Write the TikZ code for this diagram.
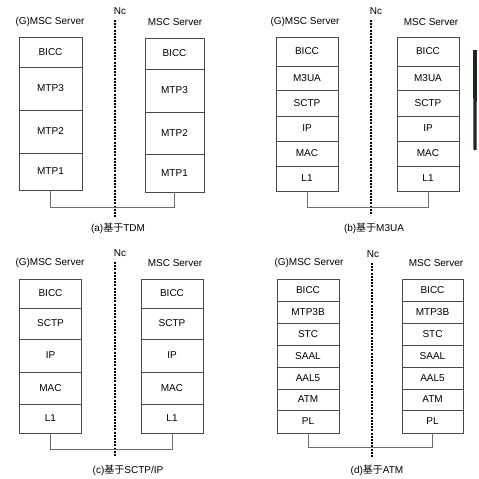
\documentclass[tikz,border=0pt]{standalone}
\usepackage{fontspec}
\setmainfont{Liberation Sans}
\newfontfamily\cjk{Noto Sans CJK SC}
\definecolor{boxline}{HTML}{4A4A4A}
\definecolor{connline}{HTML}{6E6E6E}
\definecolor{barcol}{HTML}{1C2A1C}
\newcommand\lblfont{\fontsize{10}{12}\selectfont}
\newcommand\mkstack[5]{%
  \node[inner sep=0pt, outer sep=0pt, minimum size=0pt] (#1-0) at (#2,#3) {};
  \foreach \h/\t [count=\i] in {#5} {%
    \pgfmathtruncatemacro\j{\i-1}%
    \node[layer, minimum width=#4pt, minimum height=\h pt] (#1-\i) at (#1-\j.south) {\t};
  }%
}
\tikzset{
  layer/.style={draw=boxline, line width=0.9pt, inner sep=0pt, outer sep=0pt, anchor=north, font=\lblfont},
  conn/.style={draw=connline, line width=0.9pt},
  ncline/.style={draw=black, line width=1.4pt, dash pattern=on 2pt off 1.2pt},
  lbl/.style={font=\lblfont, inner sep=0pt},
}
\begin{document}
\begin{tikzpicture}[x=1pt, y=-1pt]
\useasboundingbox[fill=white] (0,0) rectangle (479,479);

% ---------- (a) ----------
\node[lbl] (aTL) at (50,22) {(G)MSC Server};
\node[lbl] (aTR) at (175,22) {MSC Server};
\node[lbl] (aNc) at (120,11) {Nc};
\coordinate (aNs) at (115,20);
\coordinate (aNe) at (115,217);
\draw[ncline] (aNs) -- (aNe);
\mkstack{aL}{50.5}{37}{63}{30/BICC,43/MTP3,43/MTP2,37/MTP1}
\mkstack{aR}{174.5}{38}{59}{31/BICC,43/MTP3,42/MTP2,38/MTP1}
\draw[conn] (aL-4.south) -- ++(0,17) -| (aR-4.south);
\node[lbl] (aCap) at (118,228) {(a){\cjk 基于}TDM};

% ---------- (b) ----------
\node[lbl] (bTL) at (305,22) {(G)MSC Server};
\node[lbl] (bTR) at (431,22) {MSC Server};
\node[lbl] (bNc) at (376,11) {Nc};
\coordinate (bNs) at (371,20);
\coordinate (bNe) at (371,215);
\draw[ncline] (bNs) -- (bNe);
\mkstack{bL}{307}{37}{62}{29/BICC,24/M3UA,26/SCTP,25/IP,25/MAC,25/L1}
\mkstack{bR}{428}{37}{62}{29/BICC,24/M3UA,26/SCTP,25/IP,25/MAC,25/L1}
\draw[conn] (bL-6.south) -- ++(0,16) -| (bR-6.south);
\node[lbl] (bCap) at (374,228) {(b){\cjk 基于}M3UA};

% ---------- (c) ----------
\node[lbl] (cTL) at (50,263) {(G)MSC Server};
\node[lbl] (cTR) at (175,263) {MSC Server};
\node[lbl] (cNc) at (120,253) {Nc};
\coordinate (cNs) at (115,262);
\coordinate (cNe) at (115,457);
\draw[ncline] (cNs) -- (cNe);
\mkstack{cL}{50.5}{279}{62}{29/BICC,31/SCTP,33/IP,32/MAC,29/L1}
\mkstack{cR}{172}{279}{62}{29/BICC,31/SCTP,33/IP,32/MAC,29/L1}
\draw[conn] (cL-5.south) -- ++(0,16) -| (cR-5.south);
\node[lbl] (cCap) at (128,470) {(c){\cjk 基于}SCTP/IP};

% ---------- (d) ----------
\node[lbl] (dTL) at (309,263) {(G)MSC Server};
\node[lbl] (dTR) at (436,263) {MSC Server};
\node[lbl] (dNc) at (373,254) {Nc};
\coordinate (dNs) at (372,263);
\coordinate (dNe) at (372,458);
\draw[ncline] (dNs) -- (dNe);
\mkstack{dL}{308}{279}{62}{22/BICC,22/MTP3B,22/STC,22/SAAL,22/AAL5,21/ATM,23/PL}
\mkstack{dR}{432.5}{279}{61}{22/BICC,22/MTP3B,22/STC,22/SAAL,22/AAL5,21/ATM,23/PL}
\draw[conn] (dL-7.south) -- ++(0,14) -| (dR-7.south);
\node[lbl] (dCap) at (377,470) {(d){\cjk 基于}ATM};

% dark bar at the right edge
\fill[barcol] (473,50) -- (477,50) -- (476.5,150) -- (473.5,150) -- cycle;
\end{tikzpicture}
\end{document}
